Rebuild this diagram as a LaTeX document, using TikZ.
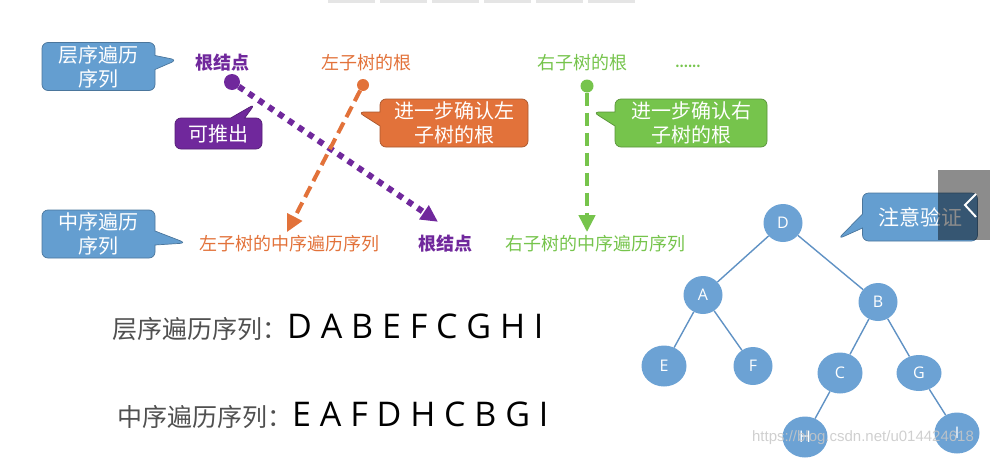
\documentclass[tikz,border=0pt]{standalone}
\usepackage{fontspec}
\setmainfont{Noto Sans CJK SC}
\newfontfamily\seqfont{Open Sans}
\newfontfamily\markfont{Liberation Sans}
\usetikzlibrary{arrows.meta,shapes.callouts,shapes.geometric}
\definecolor{hintblue}{RGB}{100,158,208}
\definecolor{rootpurple}{RGB}{112,40,156}
\definecolor{leftorange}{RGB}{226,114,58}
\definecolor{rightgreen}{RGB}{118,196,76}
\definecolor{treeblue}{RGB}{108,162,212}
\definecolor{edgeblue}{RGB}{96,146,196}
\definecolor{seqgray}{RGB}{80,80,80}

\begin{document}
\begin{tikzpicture}[x=1pt,y=-1pt,>={Triangle[length=17pt,width=16pt]},
  hint box/.style={rectangle callout,rounded corners=6pt,fill=#1,draw=#1!75!black,
    line width=0.7pt,text=white,align=center,inner sep=0pt,
    callout pointer width=14pt,font=\fontsize{20}{24}\selectfont},
  tree node/.style={ellipse,fill=treeblue,text=white,inner sep=0pt,
    minimum width=39pt,minimum height=38pt,font=\seqfont\fontsize{16}{16}\selectfont},
  wide node/.style={minimum width=45pt,minimum height=41pt},
  head text/.style={font=\fontsize{18}{18}\selectfont,text=#1}]
\useasboundingbox (0,0) rectangle (990,458);

% top tabs
\foreach \x in {328,380,432,484,536,588}
  \fill[black!10] (\x,0) rectangle (\x+47,2.5);

% level order row
\node (lvlhint) at (98.5,66.5) [hint box=hintblue,minimum width=113pt,minimum height=48pt,
  callout absolute pointer={(177,60)}] {层序遍历\\序列};
\node (rootlvl) at (222,63) [head text=rootpurple,font=\bfseries\fontsize{18}{18}\selectfont] {根结点};
\node (leftlvl) at (366,63) [head text=leftorange] {左子树的根};
\node (rightlvl) at (582,63) [head text=rightgreen] {右子树的根};
\node (morelvl) at (688,66) [text=rightgreen,font=\bfseries\fontsize{12}{12}\selectfont] {......};

\node (rootdot) at (232,82) [circle,fill=rootpurple,minimum size=16pt,inner sep=0pt] {};
\node (leftdot) at (363,85) [circle,fill=leftorange,minimum size=12pt,inner sep=0pt] {};
\node (rightdot) at (587,86) [circle,fill=rightgreen,minimum size=13pt,inner sep=0pt] {};

% notes
\node (pushhint) at (218.5,133.5) [hint box=rootpurple,minimum width=87pt,minimum height=31pt,
  callout absolute pointer={(255,104)}] {可推出};
\node (lefthint) at (454,123) [hint box=leftorange,minimum width=148pt,minimum height=48pt,
  callout absolute pointer={(358,112)}] {进一步确认左\\子树的根};
\node (righthint) at (691,123) [hint box=rightgreen,minimum width=152pt,minimum height=48pt,
  callout absolute pointer={(593,112)}] {进一步确认右\\子树的根};

% in order row
\node (inhint) at (98.5,234) [hint box=hintblue,minimum width=113pt,minimum height=48pt,
  callout absolute pointer={(186,243)}] {中序遍历\\序列};
\node (leftin) at (289,244) [head text=leftorange] {左子树的中序遍历序列};
\node (rootin) at (445,244) [head text=rootpurple,font=\bfseries\fontsize{18}{18}\selectfont] {根结点};
\node (rightin) at (595,244) [head text=rightgreen] {右子树的中序遍历序列};

% arrows
\draw[rootpurple,line width=6pt,dash pattern=on 6pt off 6pt,->]
  (rootdot) -- ([shift={(-7,-10)}]rootin.north);
\draw[leftorange,line width=4pt,dash pattern=on 12pt off 6pt,->]
  (leftdot) -- ([xshift=-2pt]leftin.north);
\draw[rightgreen,line width=4.5pt,dash pattern=on 13pt off 7pt,->]
  (rightdot) -- (rightdot |- rightin.north);

% sequences
\node (lvlseq) at (112,327) [anchor=west,inner sep=0pt] {{\color{seqgray}\fontsize{25}{25}\selectfont 层序遍历序列：}{\seqfont\fontsize{34}{34}\selectfont D A B E F C G H I}};
\node (inseq) at (117,415) [anchor=west,inner sep=0pt] {{\color{seqgray}\fontsize{25}{25}\selectfont 中序遍历序列：}{\seqfont\fontsize{34}{34}\selectfont E A F D H C B G I}};

% tree
\node (D) at (783,223) [tree node] {D};
\node (A) at (703,295) [tree node] {A};
\node (B) at (878,302) [tree node] {B};
\node (E) at (664,366) [tree node,wide node] {E};
\node (F) at (753,366) [tree node] {F};
\node (C) at (840,373) [tree node,wide node] {C};
\node (G) at (919,373) [tree node,wide node,minimum height=36pt] {G};
\node (H) at (805,437) [tree node,wide node] {H};
\node (I) at (957,433) [tree node,wide node] {I};

\path[edgeblue,line width=1.4pt]
  (D) edge (A)
  (D) edge (B)
  (A) edge (E)
  (A) edge (F)
  (B) edge (C)
  (B) edge (G)
  (C) edge (H)
  (G) edge (I);

\node (checkhint) at (920,217) [hint box=hintblue,minimum width=115pt,minimum height=48pt,
  callout absolute pointer={(838,239)},font=\fontsize{21}{21}\selectfont] {注意验证};

% player button
\node (playbtn) at (964,205) [fill=black,fill opacity=0.45,minimum width=52pt,minimum height=70pt,inner sep=0pt] {};
\draw[white,line width=2pt] ([shift={(12,-11)}]playbtn.center) -- ([shift={(1,0)}]playbtn.center)
  -- ([shift={(12,12)}]playbtn.center);

% watermark
\node (mark) at (863,438) [text=black!22,text opacity=0.85,font=\markfont\fontsize{15}{15}\selectfont] {https://blog.csdn.net/u014424618};

\end{tikzpicture}
\end{document}
